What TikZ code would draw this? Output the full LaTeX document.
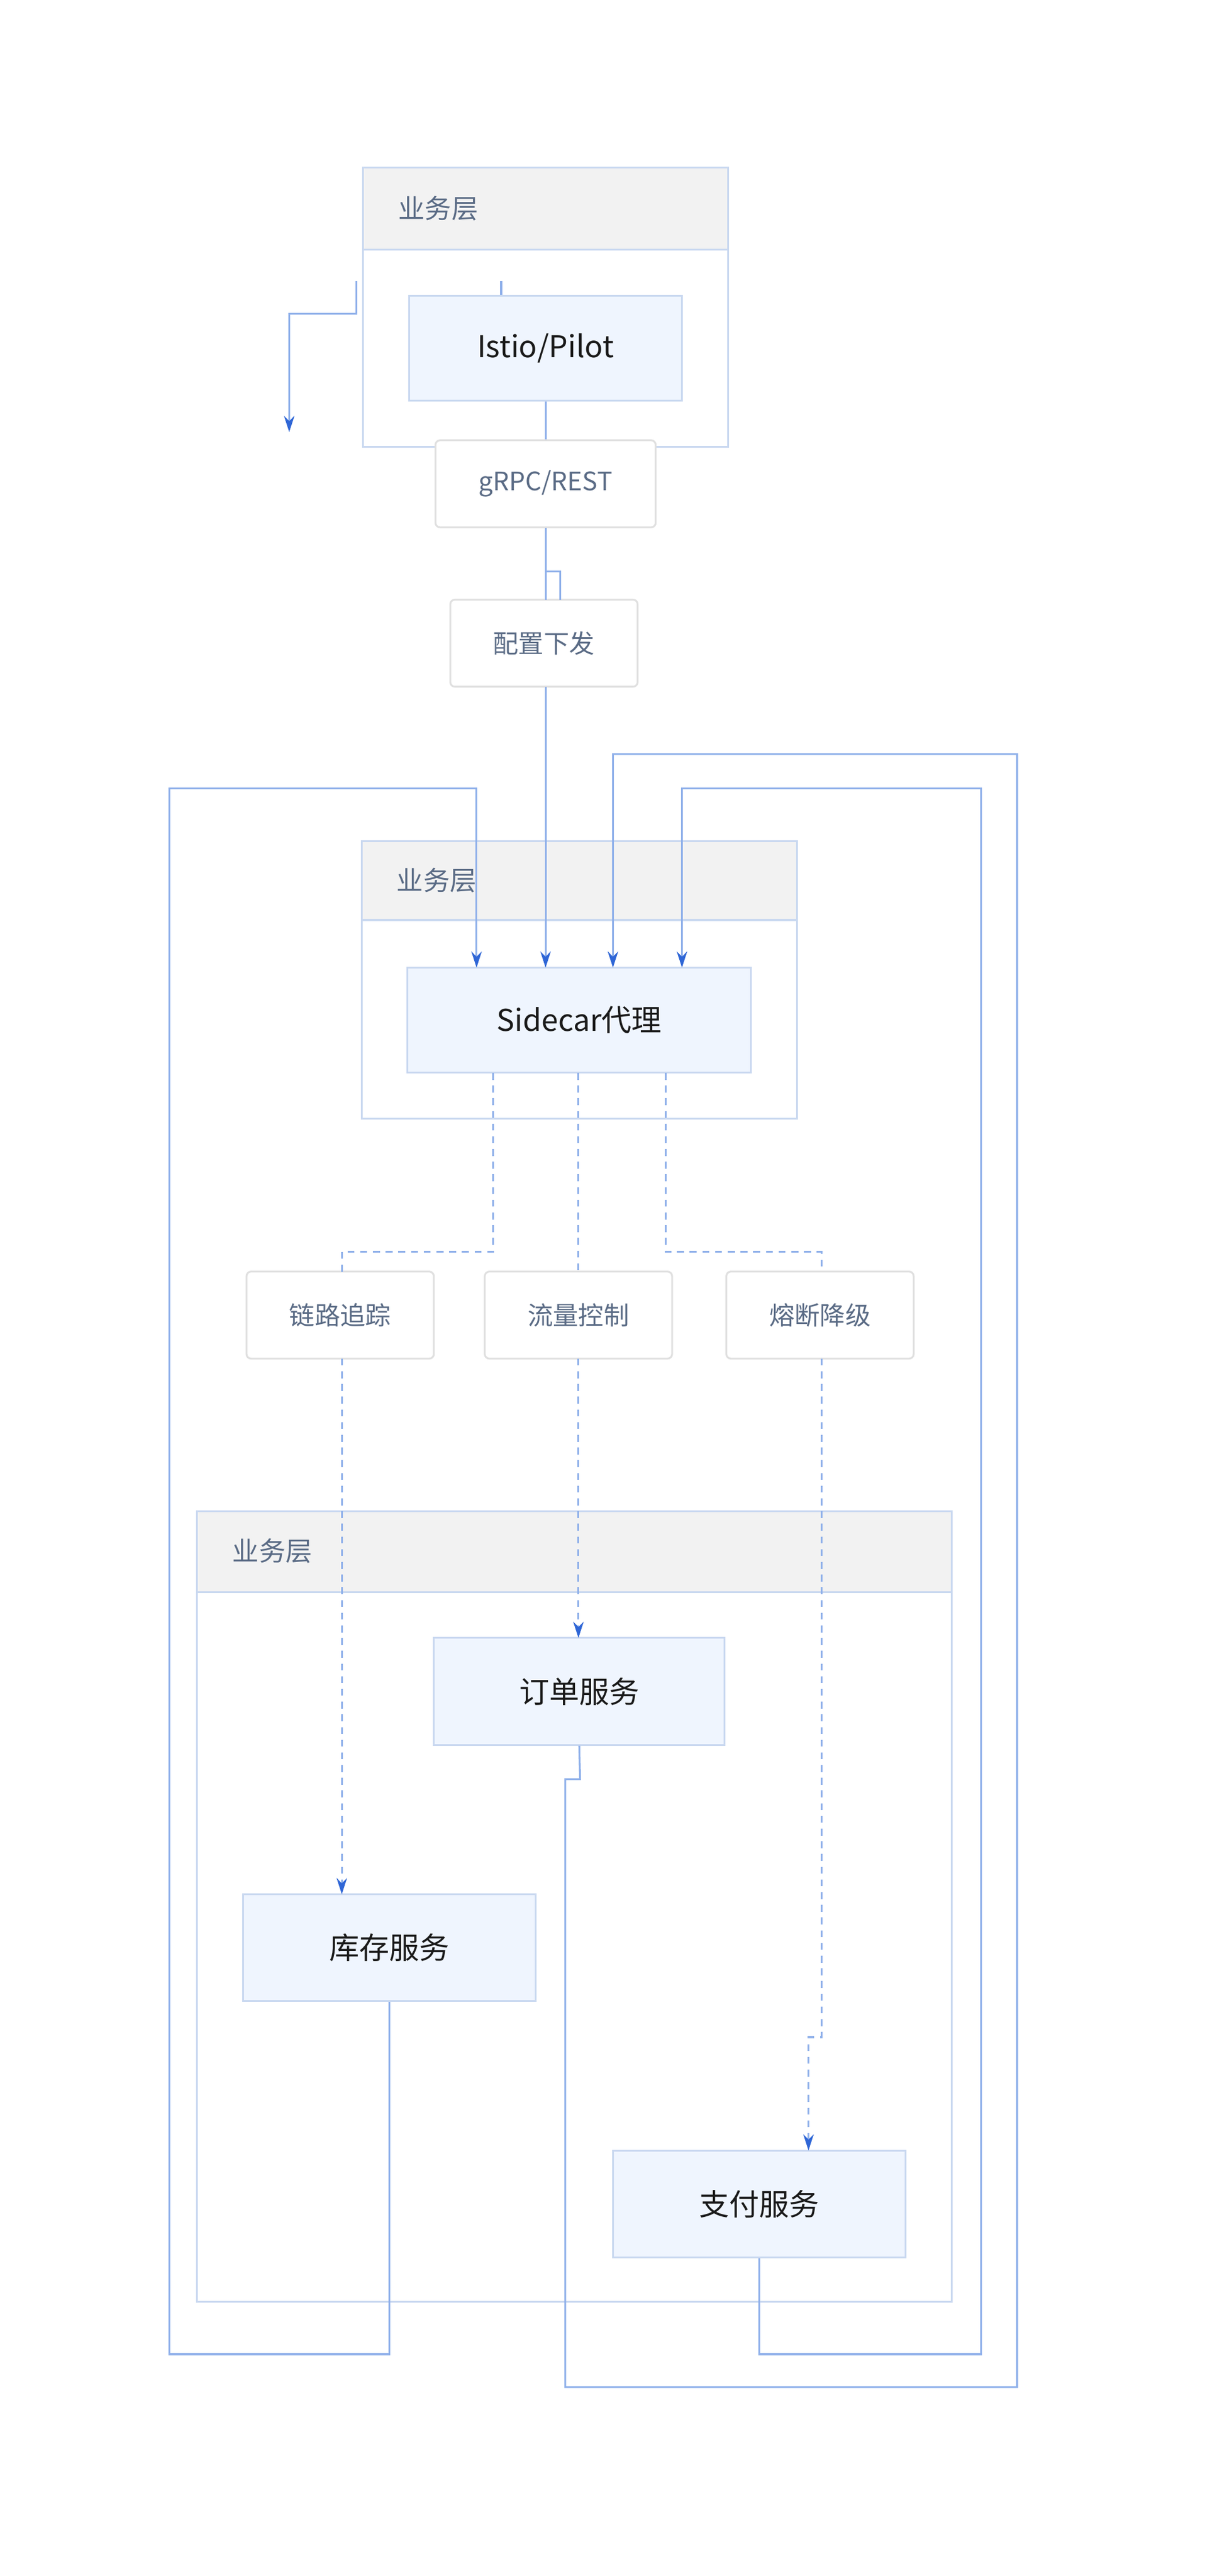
\documentclass[tikz,border=0pt]{standalone}
\usepackage{fontspec}
\setmainfont{Noto Sans CJK SC}
\usetikzlibrary{arrows.meta}
\definecolor{bd}{HTML}{C9D8F0}
\definecolor{hd}{HTML}{F2F2F2}
\definecolor{nf}{HTML}{EFF5FE}
\definecolor{ln}{HTML}{8FB0EA}
\definecolor{ah}{HTML}{2F66D6}
\definecolor{lt}{HTML}{5A6B85}
\definecolor{lb}{HTML}{E0E0E0}
\begin{document}
\begin{tikzpicture}[x=0.05cm,y=-0.05cm,
 grp/.style={draw=bd,line width=1.6pt},
 hdr/.style={draw=bd,fill=hd,line width=1.6pt},
 svc/.style={draw=bd,fill=nf,line width=1.6pt,font=\fontsize{26}{30}\selectfont,text=black!90},
 lab/.style={draw=lb,fill=white,rounded corners=4pt,line width=1.6pt,font=\fontsize{22}{26}\selectfont,text=lt},
 htxt/.style={anchor=west,font=\fontsize{23}{27}\selectfont,text=lt},
 con/.style={draw=ln,line width=1.6pt},
 arr/.style={con,-{Stealth[length=14pt,width=9pt,color=ah]}},
 dsh/.style={con,dash pattern=on 6pt off 5pt}]
\useasboundingbox (0,0) rectangle (733,1568);
% groups
\draw[grp] (221,102) rectangle (443,272);
\draw[hdr] (221,102) rectangle (443,152);
\node[htxt] (h1) at (240,127) {业务层};
\draw[grp] (220,512) rectangle (485,681);
\draw[hdr] (220,512) rectangle (485,560);
\node[htxt] (h2) at (239,536) {业务层};
\draw[grp] (120,920) rectangle (579,1401);
\draw[hdr] (120,920) rectangle (579,969);
\node[htxt] (h3) at (139,944) {业务层};
% nodes
\node[svc,minimum width=166*0.05cm,minimum height=64*0.05cm] (pilot) at (332,212) {Istio/Pilot};
\node[svc,minimum width=209*0.05cm,minimum height=64*0.05cm] (side) at (352.5,621) {Sidecar代理};
\node[svc,minimum width=177*0.05cm,minimum height=65*0.05cm] (order) at (352.5,1029.5) {订单服务};
\node[svc,minimum width=178*0.05cm,minimum height=65*0.05cm] (stock) at (237,1185.5) {库存服务};
\node[svc,minimum width=178*0.05cm,minimum height=65*0.05cm] (pay) at (462,1341.5) {支付服务};
\coordinate (stubA) at (217,171);
\coordinate (stubB) at (176,263);
\coordinate (stubC) at (305,171);
% connectors top
\draw[arr] (stubA) -- (217,191) -| (stubB);
\draw[con] (stubC) -- (pilot.north -| stubC);
\node[lab,minimum width=134*0.05cm,minimum height=53*0.05cm] (grpc) at (332,294.5) {gRPC/REST};
\node[lab,minimum width=114*0.05cm,minimum height=53*0.05cm] (cfg) at (331,391.5) {配置下发};
\draw[con] (pilot.south) -- (grpc.north);
\draw[con] (grpc.south) -- (332,348) -- (341,348) -- (341,365);
\draw[con] (332,348) -- (332,365);
\draw[arr] (332,418) -- (332,589);
% feedback loops
\draw[arr] (stock.south) -- (237,1433) -- (103,1433) -- (103,480) -- (290,480) -- (290,589);
\draw[arr] (pay.south) -- (462,1433) -- (597,1433) -- (597,480) -- (415,480) -- (415,589);
\draw[arr] (order.south) -- (353,1083) -- (344,1083) -- (344,1453) -- (619,1453) -- (619,459) -- (373,459) -- (373,589);
% dashed
\node[lab,minimum width=114*0.05cm,minimum height=53*0.05cm] (trace) at (207,800.5) {链路追踪};
\node[lab,minimum width=114*0.05cm,minimum height=53*0.05cm] (flow) at (352,800.5) {流量控制};
\node[lab,minimum width=114*0.05cm,minimum height=53*0.05cm] (fuse) at (499,800.5) {熔断降级};
\draw[dsh] (300,653) -- (300,762) -- (208,762) -- (208,774);
\draw[dsh] (352,653) -- (352,774);
\draw[dsh] (405,653) -- (405,762) -- (500,762) -- (500,774);
\draw[dsh,-{Stealth[length=14pt,width=9pt,color=ah]}] (208,827) -- (208,1153);
\draw[dsh,-{Stealth[length=14pt,width=9pt,color=ah]}] (352,827) -- (352,997);
\draw[dsh,-{Stealth[length=14pt,width=9pt,color=ah]}] (500,827) -- (500,1240) -- (492,1240) -- (492,1309);
\end{tikzpicture}
\end{document}
